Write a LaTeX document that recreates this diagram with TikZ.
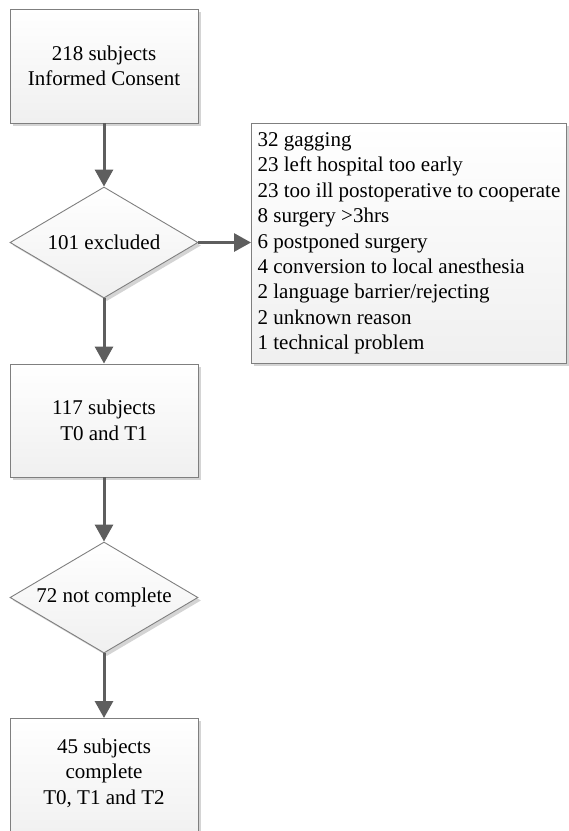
\documentclass[tikz,border=0pt]{standalone}
\usepackage{fontspec}
\setmainfont{Liberation Serif}
\usetikzlibrary{shapes.geometric,shadows,arrows.meta}
\definecolor{edge}{HTML}{7F7F7F}
\definecolor{arr}{HTML}{5E5E5E}
\definecolor{shd}{HTML}{D4D4D4}
\begin{document}
\begin{tikzpicture}[x=1pt,y=-1pt,
  every node/.style={font=\fontsize{21}{25.4}\selectfont},
  box/.style={rectangle,draw=edge,line width=0.9pt,top color=white,bottom color=gray!12,
    drop shadow={shadow xshift=3pt,shadow yshift=-3pt,fill=shd,opacity=1},
    minimum width=188pt,inner sep=0pt,align=center},
  dia/.style={diamond,aspect=1.7,draw=edge,line width=0.9pt,top color=white,bottom color=gray!12,
    drop shadow={shadow xshift=3pt,shadow yshift=-3pt,fill=shd,opacity=1},
    minimum width=188pt,minimum height=111pt,inner sep=0pt,align=center},
  plain/.style={align=center,inner sep=0pt},
  link/.style={draw=arr,line width=3pt,-{Triangle[length=17pt,width=18pt]}}]
\useasboundingbox (0,0) rectangle (569,831);
\node[box,minimum height=114pt] (consent) at (104,66) {218 subjects\\Informed Consent};
\node[dia] (excl) at (104,242.5) {101 excluded};
\node[box,minimum width=315pt,minimum height=240pt,anchor=north west,align=left,
  inner xsep=4pt] (reasons) at (251,123) {32 gagging\\
23 left hospital too early\\
23 too ill postoperative to cooperate\\
8 surgery >3hrs\\
6 postponed surgery\\
4 conversion to local anesthesia\\
2 language barrier/rejecting\\
2 unknown reason\\
1 technical problem};
\node[box,minimum height=113pt] (t01) at (104,420.5) {117 subjects\\T0 and T1};
\node[dia] (notc) at (104,597.5) {72 not complete};
\node[box,minimum height=124pt,anchor=north] (comp) at (104,718) {};
\node[plain] (comptext) at (104,773) {45 subjects\\complete\\T0, T1 and T2};
\draw[link] (consent.south) -- (excl.north);
\draw[link] (excl.east) -- (reasons.west |- excl.east);
\draw[link] (excl.south) -- (t01.north);
\draw[link] (t01.south) -- (notc.north);
\draw[link] (notc.south) -- (comp.north);
\end{tikzpicture}
\end{document}
